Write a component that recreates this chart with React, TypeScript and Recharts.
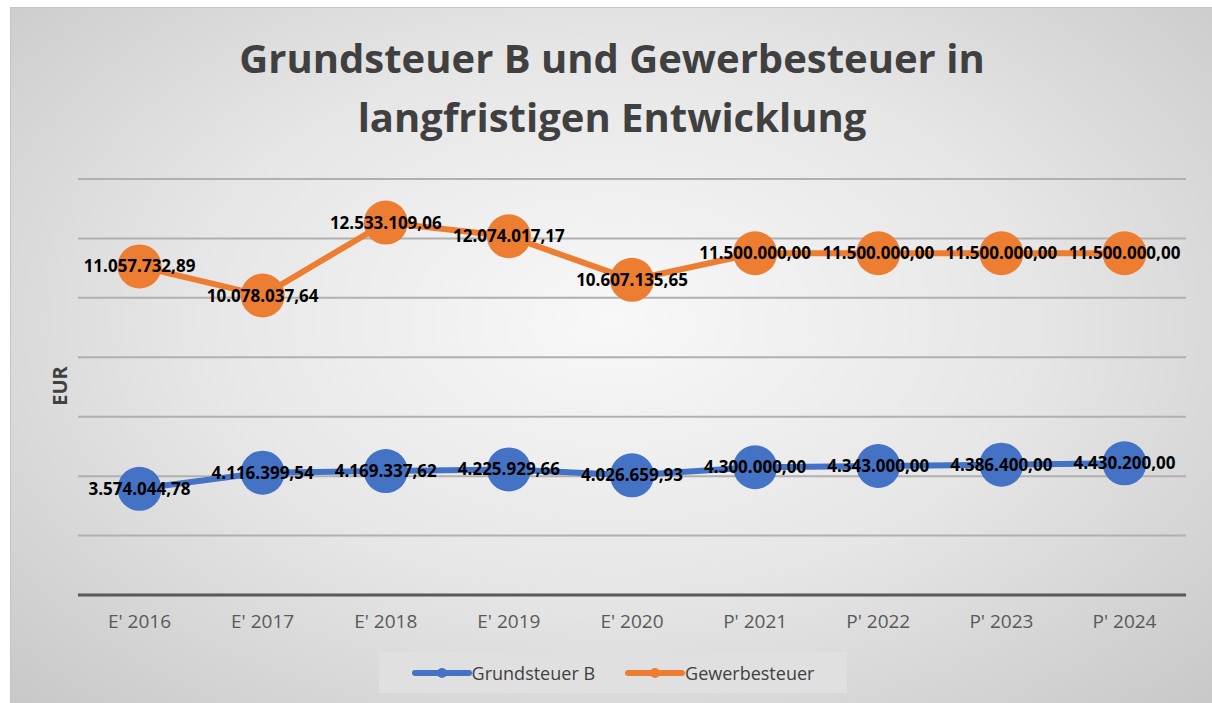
import React from 'react';
import { LineChart, Line, XAxis, YAxis, CartesianGrid, LabelList } from 'recharts';

const years = ["E' 2016", "E' 2017", "E' 2018", "E' 2019", "E' 2020", "P' 2021", "P' 2022", "P' 2023", "P' 2024"];
const grundsteuerB = [3574044.78, 4116399.54, 4169337.62, 4225929.66, 4026659.93, 4300000, 4343000, 4386400, 4430200];
const gewerbesteuer = [11057732.89, 10078037.64, 12533109.06, 12074017.17, 10607135.65, 11500000, 11500000, 11500000, 11500000];
const yTicks = [0, 2000000, 4000000, 6000000, 8000000, 10000000, 12000000, 14000000];

const series = [
  { key: 'grundsteuerB', name: 'Grundsteuer B', color: '#4472c4' },
  { key: 'gewerbesteuer', name: 'Gewerbesteuer', color: '#ed7d31' },
];

const data = years.map((year, i) => ({
  year,
  grundsteuerB: grundsteuerB[i],
  gewerbesteuer: gewerbesteuer[i],
}));

// 1234567.8 -> "1.234.567,80"
function formatEur(v: number) {
  const [int, dec] = v.toFixed(2).split('.');
  return int.replace(/\B(?=(\d{3})+(?!\d))/g, '.') + ',' + dec;
}

const font = '"Open Sans", sans-serif';

export default function App() {
  return (
    <div style={{ position: 'absolute', left: 0, top: 0, width: 1212, height: 703, background: '#fff', fontFamily: font }}>
      <div
        style={{
          position: 'absolute',
          left: 10,
          top: 7,
          width: 1202,
          height: 696,
          boxSizing: 'border-box',
          borderTop: '1px solid #c4c4c4',
          borderLeft: '1px solid #c4c4c4',
          background: 'radial-gradient(ellipse at 50% 45%, #f8f8f8 0%, #e6e6e6 50%, #c8c8c8 100%)',
        }}
      >
        <div
          style={{
            position: 'absolute',
            left: 0,
            top: 20,
            width: 1202,
            textAlign: 'center',
            fontSize: 40,
            lineHeight: '59px',
            fontWeight: 700,
            color: '#404040',
          }}
        >
          Grundsteuer B und Gewerbesteuer in
          <br />
          langfristigen Entwicklung
        </div>

        <div
          style={{
            position: 'absolute',
            left: 48,
            top: 378,
            transform: 'translate(-50%, -50%) rotate(-90deg)',
            fontSize: 20,
            fontWeight: 700,
            color: '#404040',
          }}
        >
          EUR
        </div>

        <LineChart width={1202} height={696} data={data} margin={{ top: 171, right: 27, left: 67, bottom: 69 }}>
          <CartesianGrid vertical={false} stroke="#b0b0b0" strokeWidth={2} />
          <XAxis
            dataKey="year"
            height={40}
            padding={{ left: 61.5, right: 61.5 }}
            axisLine={{ stroke: '#595959', strokeWidth: 3 }}
            tickLine={false}
            tickSize={0}
            tickMargin={20}
            tick={{ fill: '#595959', fontSize: 19, fontFamily: font }}
          />
          <YAxis hide domain={[0, 14000000]} ticks={yTicks} />
          {series.map((s) => (
            <Line
              key={s.key}
              dataKey={s.key}
              name={s.name}
              stroke={s.color}
              strokeWidth={6}
              dot={{ r: 22, fill: s.color, stroke: 'none' }}
              activeDot={false}
              isAnimationActive={false}
            >
              <LabelList
                dataKey={s.key}
                position="center"
                formatter={(v: any) => formatEur(Number(v))}
                style={{ fill: '#000', fontSize: 17, fontWeight: 700, fontFamily: font }}
              />
            </Line>
          ))}
        </LineChart>

        <div
          style={{
            position: 'absolute',
            left: 368,
            top: 644,
            width: 468,
            height: 41,
            background: '#e0e0e0',
            display: 'flex',
            alignItems: 'center',
            justifyContent: 'center',
            gap: 30,
            fontSize: 18,
            color: '#404040',
          }}
        >
          {series.map((s) => (
            <div key={s.key} style={{ display: 'flex', alignItems: 'center' }}>
              <svg width={60} height={14}>
                <line x1={3} y1={7} x2={57} y2={7} stroke={s.color} strokeWidth={6} strokeLinecap="round" />
                <circle cx={30} cy={7} r={5} fill={s.color} />
              </svg>
              <span>{s.name}</span>
            </div>
          ))}
        </div>
      </div>
    </div>
  );
}
